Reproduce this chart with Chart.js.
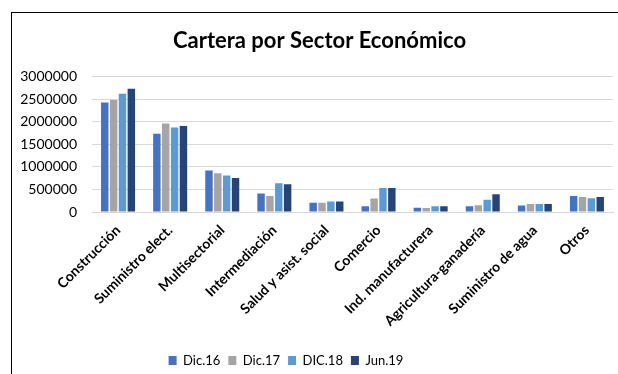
<!DOCTYPE html>
<html>
<head>
<meta charset="utf-8">
<script src="https://cdn.jsdelivr.net/npm/chart.js@4"></script>
<style>
  body { margin: 0; background: #fff; }
  #wrap { position: relative; width: 618px; height: 374px; }
  #frame { position: absolute; left: 11px; top: 12px; width: 700px; height: 400px;
           border-left: 1px solid #000; border-top: 1px solid #000; pointer-events: none; }
</style>
</head>
<body>
<div id="wrap">
  <canvas id="chart" width="618" height="374"></canvas>
  <div id="frame"></div>
</div>
<script>
// sectores económicos
const sectors = ['Construcción', 'Suministro elect.', 'Multisectorial', 'Intermediación',
  'Salud y asist. social', 'Comercio', 'Ind. manufacturera', 'Agricultura-ganadería',
  'Suministro de agua', 'Otros'];

const dic16 = [2420000, 1730000, 920000, 410000, 205000, 125000, 95000, 125000, 145000, 355000];
const dic17 = [2480000, 1960000, 860000, 355000, 205000, 300000, 88000, 148000, 178000, 332000];
const dic18 = [2615000, 1870000, 810000, 635000, 235000, 530000, 125000, 272000, 178000, 302000];
const jun19 = [2725000, 1900000, 750000, 612000, 235000, 530000, 125000, 390000, 178000, 332000];

const yTicks = [0, 500000, 1000000, 1500000, 2000000, 2500000, 3000000];

const FONT = 'Lato, "Open Sans", sans-serif';

// el gráfico original está recortado: título y leyenda no quedan centrados en el lienzo
const boxShift = {
  id: 'boxShift',
  beforeDraw(chart) {
    const lg = chart.legend;
    if (lg) {
      lg.left = 12;
      lg.right = 560;
      lg.top += 3;
      lg.bottom += 3;
    }
    const t = chart.titleBlock;
    if (t) {
      t.left += 13;
      t.right += 13;
    }
  },
};

const ctx = document.getElementById('chart').getContext('2d');
const chart = new Chart(ctx, {
  type: 'bar',
  data: {
    labels: sectors,
    datasets: [
      { label: 'Dic.16', data: dic16, backgroundColor: '#4472C4' },
      { label: 'Dic.17', data: dic17, backgroundColor: '#A5A5A5' },
      { label: 'DIC.18', data: dic18, backgroundColor: '#5B9BD5' },
      { label: 'Jun.19', data: jun19, backgroundColor: '#264478' },
    ],
  },
  options: {
    responsive: false,
    animation: false,
    layout: { padding: { left: 0, right: 5, top: 0, bottom: 0 } },
    datasets: { bar: { barPercentage: 0.84, categoryPercentage: 0.68 } },
    plugins: {
      title: {
        display: true,
        text: 'Cartera por Sector Económico',
        color: '#000',
        font: { family: FONT, size: 22, weight: 'bold' },
        padding: { top: 28, bottom: 22 },
      },
      legend: {
        position: 'bottom',
        labels: {
          color: '#000',
          font: { family: FONT, size: 13 },
          boxWidth: 8,
          boxHeight: 9,
          padding: 8,
        },
      },
      tooltip: { enabled: false },
    },
    scales: {
      x: {
        grid: { display: false },
        border: { color: '#d9d9d9' },
        ticks: {
          color: '#000',
          font: { family: FONT, size: 14, weight: 'bold' },
          minRotation: 45,
          maxRotation: 45,
          autoSkip: false,
          padding: 2,
        },
        afterFit: (scale) => { scale.height = 131; },
      },
      y: {
        min: 0,
        max: 3000000,
        afterBuildTicks: (scale) => { scale.ticks = yTicks.map(v => ({ value: v })); },
        grid: { color: '#d9d9d9', drawTicks: false },
        border: { display: false },
        ticks: {
          color: '#000',
          font: { family: FONT, size: 14 },
          padding: 15,
          callback: (v) => String(v),
        },
        afterFit: (scale) => { scale.width = 92; },
      },
    },
  },
  plugins: [boxShift],
});
</script>
</body>
</html>
